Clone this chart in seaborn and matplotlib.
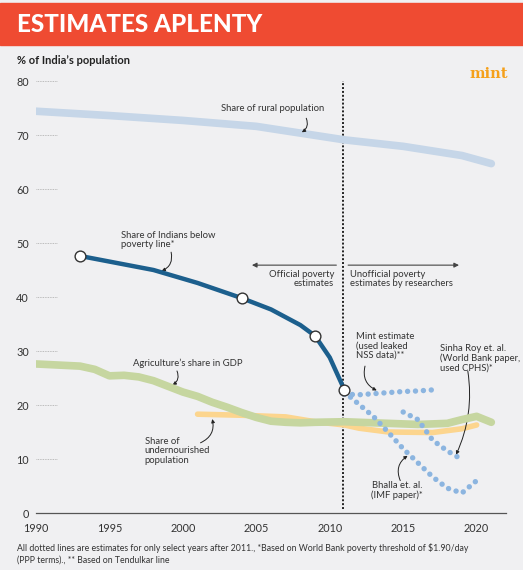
import matplotlib
matplotlib.use("Agg")
import matplotlib.pyplot as plt
from matplotlib.patches import Rectangle
import seaborn as sns

# share of rural population
rural_years = [1990, 1995, 2000, 2005, 2011, 2015, 2019, 2021]
rural_vals = [74.4, 73.6, 72.7, 71.6, 69.1, 67.9, 66.2, 64.7]

# share of Indians below poverty line (official)
pov_years = [1993, 1998, 2001, 2004, 2006, 2008, 2009, 2010, 2011]
pov_vals = [47.6, 45.0, 42.6, 39.8, 37.7, 34.8, 32.8, 28.8, 22.8]
pov_mark_years = [1993, 2004, 2009, 2011]
pov_mark_vals = [47.6, 39.8, 32.8, 22.8]

# agriculture's share in GDP
agri_years = [1990, 1993, 1994, 1995, 1996, 1997, 1998, 2000, 2001, 2002, 2003,
              2004, 2005, 2006, 2007, 2008, 2009, 2011, 2012, 2014, 2016, 2018,
              2019, 2020, 2021]
agri_vals = [27.6, 27.2, 26.6, 25.4, 25.5, 25.2, 24.5, 22.4, 21.6, 20.5, 19.6,
             18.6, 17.7, 17.0, 16.8, 16.7, 16.8, 16.9, 16.8, 16.6, 16.4, 16.6,
             17.3, 17.9, 16.8]

# share of undernourished population
under_years = [2001, 2004, 2007, 2009, 2011, 2012, 2014, 2017, 2019, 2020]
under_vals = [18.3, 18.1, 17.8, 16.9, 16.3, 15.7, 15.0, 14.9, 15.6, 16.3]

# unofficial estimates (dotted)
mint_years = [2011, 2012, 2013, 2014, 2015, 2016, 2017]
mint_vals = [22.0, 21.9, 22.1, 22.3, 22.5, 22.6, 22.8]
bhalla_years = [2011, 2012, 2013, 2014, 2015, 2016, 2017, 2018, 2019, 2020]
bhalla_vals = [22.4, 20.1, 17.8, 14.9, 11.9, 9.3, 6.7, 4.6, 3.7, 6.0]
sinha_years = [2015, 2016, 2017, 2018, 2019]
sinha_vals = [18.7, 17.3, 13.5, 11.5, 9.9]

y_ticks = [0, 10, 20, 30, 40, 50, 60, 70, 80]
x_ticks = [1990, 1995, 2000, 2005, 2010, 2015, 2020]

sns.set_style("white")
plt.rcParams["font.family"] = ["Lato", "DejaVu Sans"]

bg = "#F0F0F2"
txt = "#333333"
fig = plt.figure(figsize=(5.23, 5.70), dpi=100, facecolor=bg)
ax = fig.add_axes([36 / 523, 57 / 570, 470 / 523, 432 / 570])
ax.set_facecolor("none")

# banner
fig.patches.append(Rectangle((0, 1 - 45 / 570), 1, 42 / 570, transform=fig.transFigure,
                             color="#EF4B32", zorder=0))
fig.text(17 / 523, 1 - 24 / 570, "ESTIMATES APLENTY", color="white", fontsize=17.5,
         fontweight=900, va="center", ha="left")
fig.text(17 / 523, 1 - 60 / 570, "% of India\u2019s population", color="#222222",
         fontsize=8, fontweight="bold", va="center", ha="left")
fig.text(508 / 523, 1 - 74 / 570, "mint", color="#F5A01A", fontsize=10.5,
         fontweight="bold", va="center", ha="right", family=["DejaVu Serif"])

# lines
sns.lineplot(x=rural_years, y=rural_vals, ax=ax, color="#C6D6E8", lw=5.5,
             solid_capstyle="round", zorder=2)
sns.lineplot(x=under_years, y=under_vals, ax=ax, color="#FCD58E", lw=4,
             solid_capstyle="round", zorder=3)
sns.lineplot(x=agri_years, y=agri_vals, ax=ax, color="#C6D6A0", lw=5.5,
             solid_capstyle="round", zorder=4)
dot = dict(color="#8CB5E0", lw=3.9, linestyle=(0, (0.01, 1.45)),
           dash_capstyle="round", zorder=5)
sns.lineplot(x=mint_years, y=mint_vals, ax=ax, **dot)
sns.lineplot(x=bhalla_years, y=bhalla_vals, ax=ax, **dot)
sns.lineplot(x=sinha_years, y=sinha_vals, ax=ax, **dot)
sns.lineplot(x=pov_years, y=pov_vals, ax=ax, color="#1C5F8D", lw=3.2,
             solid_capstyle="round", zorder=6)
sns.scatterplot(x=pov_mark_years, y=pov_mark_vals, ax=ax, s=60, color="white",
                edgecolor="#333333", linewidth=1.0, zorder=7)

ax.axvline(2010.9, ymin=0.01, ymax=1.0, color="#222222", lw=1.4,
           linestyle=(0, (1, 1)), zorder=1)

# axes styling
ax.set_xlim(1990, 2022)
ax.set_ylim(0, 80)
for s in ["left", "top", "right"]:
    ax.spines[s].set_visible(False)
ax.spines["bottom"].set_color("#555555")
ax.spines["bottom"].set_linewidth(0.9)
ax.set_xticks(x_ticks)
ax.set_yticks(y_ticks)
ax.tick_params(axis="x", length=4, width=0.9, color="#555555", pad=3,
               labelsize=7.8, labelcolor=txt)
ax.tick_params(axis="y", length=0, pad=5, labelsize=7.8, labelcolor=txt)
ax.hlines(y_ticks[1:], 1990, 1991.4, colors="#AAAAAA", lw=0.6,
          linestyles=(0, (1, 1)), zorder=1)
ax.set_xlabel("")
ax.set_ylabel("")

# annotations
fs = 6.8
arr = dict(arrowstyle="-|>", color="#222222", lw=0.7, mutation_scale=5,
           shrinkA=0, shrinkB=0)

ax.text(2006.1, 74.9, "Share of rural population", fontsize=fs, color=txt,
        ha="center", va="center")
ax.annotate("", xy=(2008.1, 70.5), xytext=(2008.4, 73.1),
            arrowprops=dict(arr, connectionstyle="arc3,rad=-0.4"))

ax.text(1995.8, 50.6, "Share of Indians below\npoverty line*", fontsize=fs,
        color=txt, ha="left", va="center", linespacing=1.05)
ax.annotate("", xy=(1998.55, 44.8), xytext=(1999.2, 48.3),
            arrowprops=dict(arr, connectionstyle="arc3,rad=-0.4"))

ax.text(2010.3, 43.3, "Official poverty\nestimates", fontsize=fs, color=txt,
        ha="right", va="center", linespacing=1.05)
ax.text(2011.4, 43.3, "Unofficial poverty\nestimates by researchers", fontsize=fs,
        color=txt, ha="left", va="center", linespacing=1.05)
harr = dict(arrowstyle="-|>", color="#444444", lw=0.8, mutation_scale=7,
            shrinkA=0, shrinkB=0)
ax.annotate("", xy=(2004.7, 45.9), xytext=(2010.45, 45.9), arrowprops=harr)
ax.annotate("", xy=(2018.8, 45.9), xytext=(2011.25, 45.9), arrowprops=harr)

ax.text(1996.6, 27.8, "Agriculture\u2019s share in GDP", fontsize=fs, color=txt,
        ha="left", va="center")
ax.annotate("", xy=(1999.3, 23.7), xytext=(1999.6, 26.3),
            arrowprops=dict(arr, connectionstyle="arc3,rad=-0.4"))

ax.text(1997.4, 11.5, "Share of\nundernourished\npopulation", fontsize=fs,
        color=txt, ha="left", va="center", linespacing=1.05)
ax.annotate("", xy=(2002.0, 17.4), xytext=(2001.2, 13.0),
            arrowprops=dict(arr, connectionstyle="arc3,rad=0.4"))

ax.text(2011.8, 30.9, "Mint estimate\n(used leaked\nNSS data)**", fontsize=fs,
        color=txt, ha="left", va="center", linespacing=1.05)
ax.annotate("", xy=(2013.2, 22.7), xytext=(2012.4, 27.2),
            arrowprops=dict(arr, connectionstyle="arc3,rad=0.4"))

ax.text(2017.5, 28.7, "Sinha Roy et. al.\n(World Bank paper,\nused CPHS)*", fontsize=fs,
        color=txt, ha="left", va="center", linespacing=1.05)
ax.annotate("", xy=(2018.6, 10.8), xytext=(2019.4, 26.3),
            arrowprops=dict(arr, connectionstyle="arc3,rad=-0.15"))

ax.text(2014.6, 4.1, "Bhalla et. al.\n(IMF paper)*", fontsize=fs, color=txt,
        ha="center", va="center", linespacing=1.05)
ax.annotate("", xy=(2015.3, 10.6), xytext=(2014.8, 6.0),
            arrowprops=dict(arr, connectionstyle="arc3,rad=-0.4"))

fig.text(17 / 523, 1 - 554 / 570,
         "All dotted lines are estimates for only select years after 2011., *Based on World Bank poverty threshold of $1.90/day\n"
         "(PPP terms)., ** Based on Tendulkar line",
         fontsize=6.3, color=txt, ha="left", va="center", linespacing=1.4)

fig.savefig("out.png", dpi=100, facecolor=bg)
